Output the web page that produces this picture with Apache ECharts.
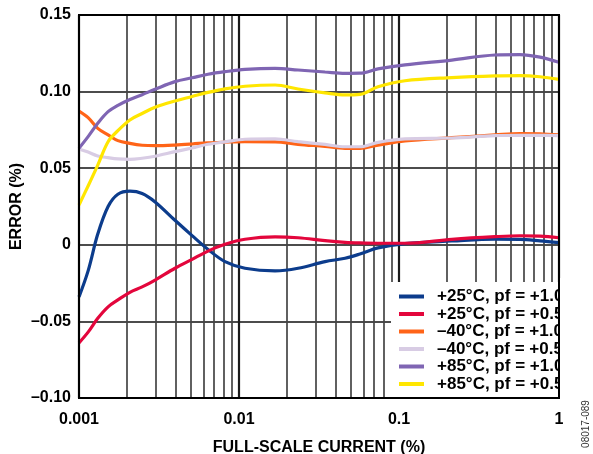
<!DOCTYPE html>
<html>
<head>
<meta charset="utf-8">
<script src="https://cdn.jsdelivr.net/npm/echarts@6/dist/echarts.min.js"></script>
<style>
html,body{margin:0;padding:0;background:#fff;}
#chart{width:593px;height:454px;}
</style>
</head>
<body>
<div id="chart"></div>
<script>
// ---- data ----
const xCurrent = [0.001, 0.00114, 0.00131, 0.00152, 0.00175, 0.00208, 0.00248, 0.00299, 0.00398, 0.00509, 0.0064, 0.00818, 0.0109, 0.0168, 0.0234, 0.0345, 0.046, 0.057, 0.0739, 0.109, 0.214, 0.398, 0.57, 0.761, 1];
const p25pf10 = [-0.034, -0.017, 0.007, 0.025, 0.033, 0.035, 0.0335, 0.028, 0.016, 0.006, -0.003, -0.011, -0.0153, -0.017, -0.0153, -0.011, -0.0088, -0.006, -0.002, 0.0008, 0.0025, 0.0037, 0.0036, 0.0026, 0.0014];
const p25pf05 = [-0.064, -0.057, -0.048, -0.0405, -0.036, -0.031, -0.0275, -0.023, -0.0153, -0.0095, -0.0041, 0.0003, 0.0036, 0.0052, 0.0046, 0.0027, 0.0016, 0.0012, 0.001, 0.001, 0.0036, 0.0053, 0.0059, 0.0056, 0.0046];
const m40pf10 = [0.0873, 0.083, 0.076, 0.0717, 0.068, 0.0662, 0.065, 0.0647, 0.0651, 0.0658, 0.0666, 0.067, 0.0673, 0.0672, 0.0656, 0.0642, 0.063, 0.063, 0.0651, 0.0678, 0.0699, 0.0717, 0.0726, 0.0725, 0.0717];
const m40pf05 = [0.0625, 0.0605, 0.058, 0.0569, 0.0561, 0.0558, 0.0565, 0.0578, 0.0608, 0.0632, 0.0656, 0.0672, 0.0689, 0.0691, 0.0673, 0.0655, 0.064, 0.064, 0.0669, 0.0691, 0.0697, 0.0713, 0.0715, 0.0714, 0.0713];
const p85pf10 = [0.063, 0.0706, 0.0793, 0.0869, 0.091, 0.0948, 0.098, 0.1015, 0.1065, 0.109, 0.1113, 0.113, 0.1145, 0.1152, 0.1141, 0.1128, 0.1119, 0.112, 0.1148, 0.1174, 0.1206, 0.1239, 0.1242, 0.1225, 0.1191];
const p85pf05 = [0.026, 0.0384, 0.052, 0.0673, 0.0745, 0.0815, 0.0857, 0.0898, 0.0939, 0.0968, 0.0995, 0.1018, 0.1035, 0.1043, 0.1017, 0.0992, 0.0978, 0.0982, 0.1032, 0.1071, 0.1091, 0.1102, 0.1104, 0.1097, 0.108];
const seriesNames = ['+25°C, pf = +1.0', '+25°C, pf = +0.5', '–40°C, pf = +1.0', '–40°C, pf = +0.5', '+85°C, pf = +1.0', '+85°C, pf = +0.5'];
const xTickValues = [0.001, 0.01, 0.1, 1];
const xTickLabels = ['0.001', '0.01', '0.1', '1'];
const yTickValues = [-0.10, -0.05, 0, 0.05, 0.10, 0.15];
const yTickLabels = ['–0.10', '–0.05', '0', '0.05', '0.10', '0.15'];

// ---- styles / layout ----
const colors = ['#0c3c8c', '#e3063c', '#ff6418', '#d8cce4', '#7f65b3', '#ffe600'];
const seriesValues = [p25pf10, p25pf05, m40pf10, m40pf05, p85pf10, p85pf05];
const G = {left: 79, top: 15, width: 480, height: 383};
const FONT = '"Liberation Sans", Arial, Helvetica, sans-serif';

const chart = echarts.init(document.getElementById('chart'), null, {renderer: 'canvas'});

function labelFor(values, labels, v) {
  for (let i = 0; i < values.length; i++) {
    if (Math.abs(values[i] - v) < 1e-9) return labels[i];
  }
  return '';
}

const series = seriesNames.map((name, i) => ({
  name: name,
  type: 'line',
  smooth: 0.35,
  showSymbol: false,
  symbol: 'none',
  lineStyle: {color: colors[i], width: 3.2},
  itemStyle: {color: colors[i]},
  data: xCurrent.map((x, j) => [x, seriesValues[i][j]]),
  z: 2 + i * 0.01,
  animation: false
}));

chart.setOption({
  animation: false,
  backgroundColor: '#fff',
  grid: {left: G.left, top: G.top, width: G.width, height: G.height, show: false, containLabel: false, outerBoundsMode: 'none'},
  xAxis: {
    type: 'log',
    logBase: 10,
    min: 0.001,
    max: 1,
    name: 'FULL-SCALE CURRENT (%)',
    nameLocation: 'middle',
    nameGap: 42,
    nameMoveOverlap: false,
    nameTextStyle: {fontFamily: FONT, fontWeight: 'bold', fontSize: 16, color: '#000'},
    axisLine: {show: false},
    axisTick: {show: false},
    axisLabel: {
      fontFamily: FONT, fontWeight: 'bold', fontSize: 16, color: '#000', margin: 14,
      formatter: v => labelFor(xTickValues, xTickLabels, v)
    },
    splitLine: {show: true, lineStyle: {color: '#1a1a1a', width: 2.2}},
    minorTick: {show: false, splitNumber: 9},
    minorSplitLine: {show: true, lineStyle: {color: '#454545', width: 1.7}}
  },
  yAxis: {
    type: 'value',
    min: -0.10,
    max: 0.15,
    interval: 0.05,
    name: 'ERROR (%)',
    nameLocation: 'middle',
    nameGap: 54,
    nameMoveOverlap: false,
    nameRotate: 90,
    nameTextStyle: {fontFamily: FONT, fontWeight: 'bold', fontSize: 16, color: '#000'},
    axisLine: {show: false},
    axisTick: {show: false},
    axisLabel: {
      fontFamily: FONT, fontWeight: 'bold', fontSize: 16, color: '#000', margin: 8,
      formatter: v => labelFor(yTickValues, yTickLabels, v)
    },
    splitLine: {show: true, lineStyle: {color: '#111', width: 1.5}}
  },
  legend: {
    show: true,
    data: seriesNames,
    orient: 'vertical',
    left: 391,
    top: 282,
    padding: [6, 30, 5, 8],
    itemGap: 0.5,
    itemWidth: 25,
    itemHeight: 4,
    icon: 'rect',
    backgroundColor: '#fff',
    selectedMode: false,
    textStyle: {fontFamily: FONT, fontWeight: 'bold', fontSize: 17, color: '#000', lineHeight: 17, padding: [0, 0, 0, 8]},
    z: 10
  },
  series: series,
  graphic: [
    {type: 'rect', z: 100, shape: {x: G.left + G.width + 1, y: G.top + G.height - 120, width: 30, height: 125}, style: {fill: '#fff'}},
    {type: 'rect', z: 101, shape: {x: G.left, y: G.top, width: G.width, height: G.height}, style: {fill: null, stroke: '#000', lineWidth: 2}},
    {type: 'text', z: 101, x: 586, y: 424, rotation: Math.PI / 2,
      style: {text: '08017-089', fontFamily: FONT, fontSize: 10, fill: '#333', align: 'center', verticalAlign: 'middle'}}
  ]
});
</script>
</body>
</html>
